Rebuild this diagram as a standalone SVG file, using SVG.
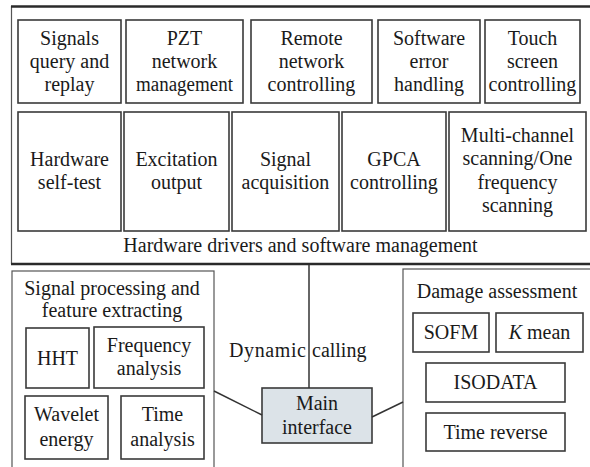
<svg xmlns="http://www.w3.org/2000/svg" width="590" height="467" viewBox="0 0 590 467" font-family="'Liberation Serif', 'Times New Roman', Times, serif">
  <style>
    text { font-family: 'Liberation Serif', 'Times New Roman', Times, serif; font-size: 20px; fill: #1a1a1a; text-anchor: middle; }
    .box { fill: #ffffff; stroke: #3a3a3a; stroke-width: 1.6; }
    .frame { fill: none; stroke: #555555; stroke-width: 1.2; }
    .rule { stroke: #2a2a2a; stroke-width: 2.4; }
    .main { fill: #dce3e8; stroke: #3a3a3a; stroke-width: 1.6; }
    .link { stroke: #333333; stroke-width: 1.5; fill: none; }
  </style>

  <!-- background -->
  <rect x="0" y="0" width="590" height="467" fill="#ffffff"/>

  <!-- upper panel: hardware drivers and software management -->
  <g id="hardware-panel">
    <line class="frame" x1="11.5" y1="6" x2="11.5" y2="264"/>
    <line class="rule" x1="11" y1="6.5" x2="590" y2="6.5"/>
    <line class="rule" x1="11" y1="264" x2="590" y2="264"/>
    <text x="300.5" y="252">Hardware drivers and software management</text>
  </g>

  <g id="signals-query">
    <rect class="box" x="18" y="20" width="103" height="83"/>
    <text x="69.5" y="45">Signals</text>
    <text x="69.5" y="68">query and</text>
    <text x="69.5" y="91">replay</text>
  </g>
  <g id="pzt-network">
    <rect class="box" x="126" y="20" width="117" height="83"/>
    <text x="184.5" y="45">PZT</text>
    <text x="184.5" y="68">network</text>
    <text x="184.5" y="91" textLength="97" lengthAdjust="spacingAndGlyphs">management</text>
  </g>
  <g id="remote-network">
    <rect class="box" x="251" y="20" width="121" height="83"/>
    <text x="311.5" y="45">Remote</text>
    <text x="311.5" y="68">network</text>
    <text x="311.5" y="91">controlling</text>
  </g>
  <g id="software-error">
    <rect class="box" x="378" y="20" width="102" height="83"/>
    <text x="429" y="45">Software</text>
    <text x="429" y="68">error</text>
    <text x="429" y="91">handling</text>
  </g>
  <g id="touch-screen">
    <rect class="box" x="485" y="20" width="95" height="83"/>
    <text x="532.5" y="45">Touch</text>
    <text x="532.5" y="68">screen</text>
    <text x="532.5" y="91">controlling</text>
  </g>

  <g id="hardware-self-test">
    <rect class="box" x="18" y="112" width="103" height="119"/>
    <text x="69.5" y="166">Hardware</text>
    <text x="69.5" y="189">self-test</text>
  </g>
  <g id="excitation-output">
    <rect class="box" x="124" y="112" width="105" height="119"/>
    <text x="176.5" y="166">Excitation</text>
    <text x="176.5" y="189">output</text>
  </g>
  <g id="signal-acquisition">
    <rect class="box" x="232" y="112" width="107" height="119"/>
    <text x="285.5" y="166">Signal</text>
    <text x="285.5" y="189">acquisition</text>
  </g>
  <g id="gpca-controlling">
    <rect class="box" x="342" y="112" width="104" height="119"/>
    <text x="394" y="166">GPCA</text>
    <text x="394" y="189">controlling</text>
  </g>
  <g id="scanning-mode">
    <rect class="box" x="449" y="112" width="137" height="119"/>
    <text x="517.5" y="142">Multi-channel</text>
    <text x="517.5" y="165">scanning/One</text>
    <text x="517.5" y="189">frequency</text>
    <text x="517.5" y="212">scanning</text>
  </g>

  <!-- lower left panel: signal processing -->
  <g id="signal-processing">
    <rect class="frame" x="12" y="271" width="202" height="210"/>
    <text x="112" y="295">Signal processing and</text>
    <text x="112" y="317">feature extracting</text>
  </g>
  <g id="hht">
    <rect class="box" x="26" y="328" width="63" height="60"/>
    <text x="57.5" y="365">HHT</text>
  </g>
  <g id="frequency-analysis">
    <rect class="box" x="94" y="327" width="110" height="61"/>
    <text x="149" y="352">Frequency</text>
    <text x="149" y="375">analysis</text>
  </g>
  <g id="wavelet-energy">
    <rect class="box" x="25" y="396" width="83" height="63"/>
    <text x="66.5" y="421">Wavelet</text>
    <text x="66.5" y="446">energy</text>
  </g>
  <g id="time-analysis">
    <rect class="box" x="121" y="396" width="83" height="63"/>
    <text x="162.5" y="421">Time</text>
    <text x="162.5" y="446">analysis</text>
  </g>

  <!-- lower right panel: damage assessment -->
  <g id="damage-assessment">
    <rect class="frame" x="403" y="269" width="200" height="210"/>
    <text x="497" y="298">Damage assessment</text>
  </g>
  <g id="sofm">
    <rect class="box" x="413" y="313" width="76" height="39"/>
    <text x="451" y="339">SOFM</text>
  </g>
  <g id="k-mean">
    <rect class="box" x="496" y="313" width="87" height="39"/>
    <text x="539.5" y="339"><tspan font-style="italic">K</tspan> mean</text>
  </g>
  <g id="isodata">
    <rect class="box" x="426" y="363" width="139" height="39"/>
    <text x="495.5" y="389">ISODATA</text>
  </g>
  <g id="time-reverse">
    <rect class="box" x="426" y="413" width="139" height="38"/>
    <text x="495.5" y="439">Time reverse</text>
  </g>

  <!-- main interface -->
  <g id="main-interface">
    <rect class="main" x="262" y="388" width="110" height="55"/>
    <text x="317" y="410">Main</text>
    <text x="317" y="434">interface</text>
  </g>

  <!-- connectors; the label's two words sit either side of the vertical line -->
  <g id="connectors">
    <line class="link" x1="309" y1="265" x2="309" y2="388"/>
    <line class="link" x1="214" y1="391" x2="262" y2="415"/>
    <line class="link" x1="372" y1="417" x2="403" y2="402"/>
    <text y="357" style="text-anchor:start"><tspan x="229" textLength="77">Dynamic</tspan> <tspan x="312">calling</tspan></text>
  </g>
</svg>
